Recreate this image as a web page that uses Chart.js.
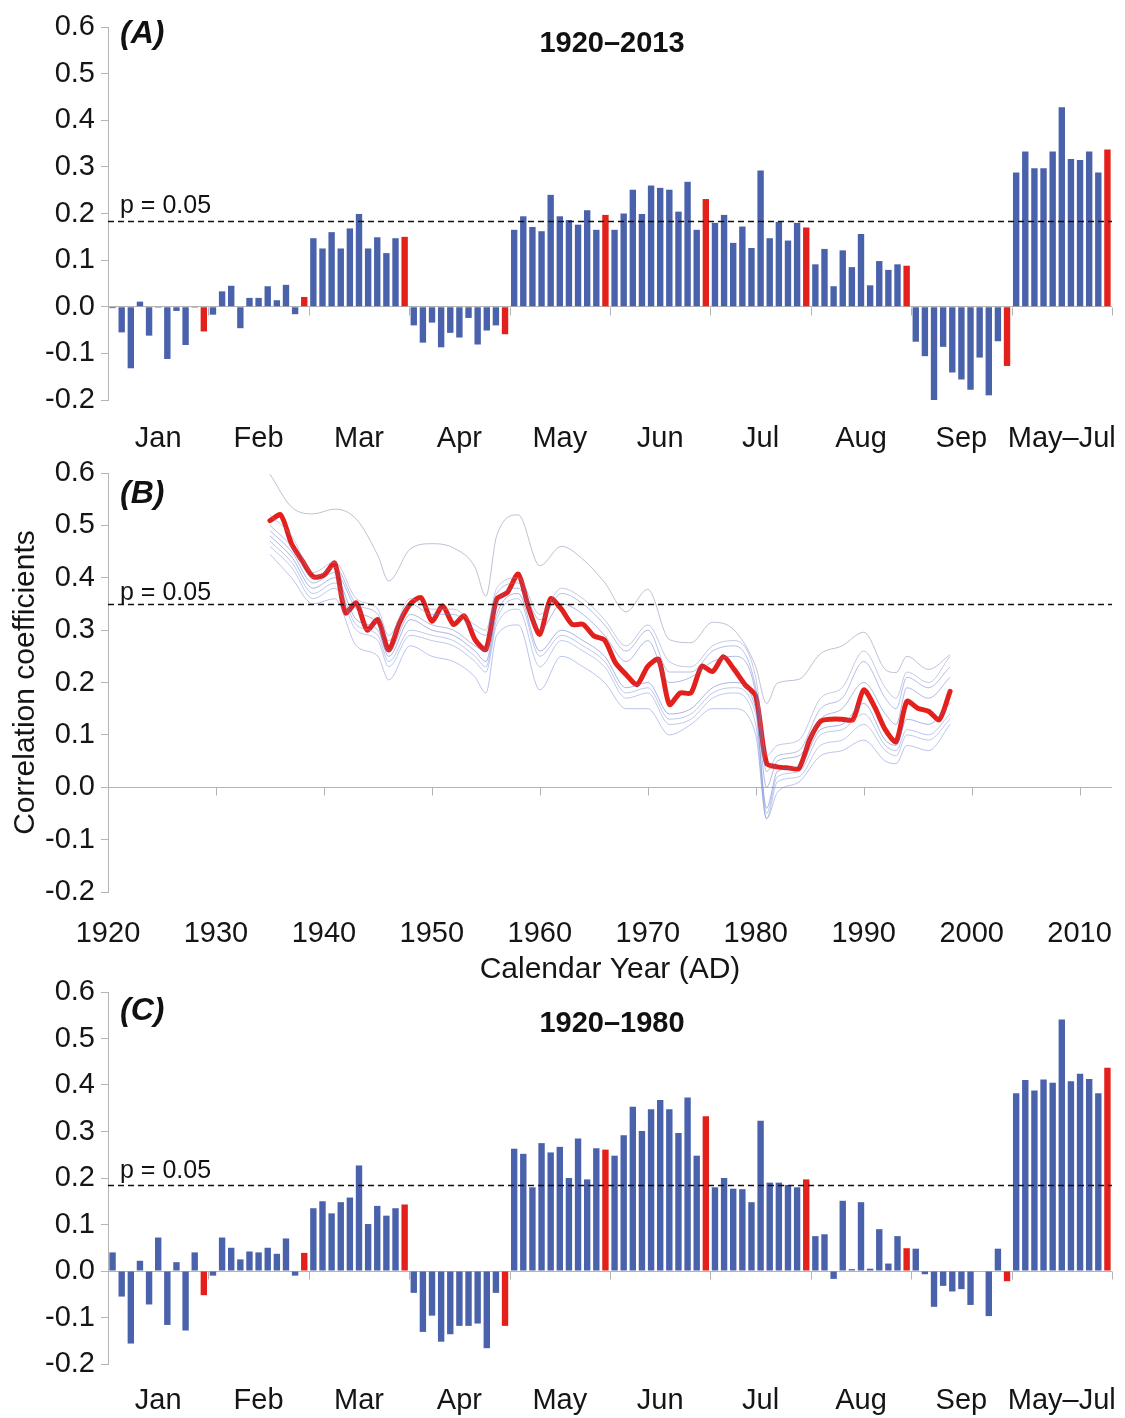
<!DOCTYPE html>
<html><head><meta charset="utf-8">
<script src="https://cdn.jsdelivr.net/npm/chart.js@4.4.1/dist/chart.umd.min.js"></script>
<style>
html,body{margin:0;padding:0;background:#fff;}
#wrap{position:relative;width:1125px;height:1418px;overflow:hidden;font-family:'Liberation Sans',Arial,sans-serif;color:#111;}
canvas{position:absolute;left:0;}
.t{position:absolute;line-height:1;white-space:nowrap;}
.pl{font-weight:bold;font-style:italic;font-size:32px;left:120px;}
.ttl{font-weight:bold;font-size:29px;left:612px;transform:translateX(-50%);}
.p{font-size:25px;left:120px;}
</style></head><body>
<div id="wrap">
<canvas id="cA" width="1125" height="470" style="top:0px;width:1125px;height:470px"></canvas>
<canvas id="cB" width="1125" height="560" style="top:440px;width:1125px;height:560px"></canvas>
<canvas id="cC" width="1125" height="458" style="top:960px;width:1125px;height:458px"></canvas>
<div class="t pl" style="top:16px">(A)</div>
<div class="t ttl" style="top:28px">1920–2013</div>
<div class="t p" style="top:192px">p = 0.05</div>
<div class="t pl" style="top:476px">(B)</div>
<div class="t p" style="top:579px">p = 0.05</div>
<div class="t pl" style="top:993px">(C)</div>
<div class="t ttl" style="top:1008px">1920–1980</div>
<div class="t p" style="top:1157px">p = 0.05</div>
</div>
<script>
// ---------- DATA ----------
const monthLabels = ['Jan','Feb','Mar','Apr','May','Jun','Jul','Aug','Sep','May–Jul'];
const barsPerMonth = 11; // 10 individual bars + final (red) bar per month

// Panel A: 1920–2013
const valuesA = [
  [-0.003,-0.055,-0.132, 0.011,-0.062,-0.002,-0.112,-0.009,-0.082,-0.002,-0.053], // Jan
  [-0.017, 0.033, 0.045,-0.046, 0.019, 0.019, 0.044, 0.014, 0.047,-0.016, 0.021], // Feb
  [ 0.147, 0.125, 0.160, 0.125, 0.168, 0.199, 0.125, 0.149, 0.115, 0.147, 0.150], // Mar
  [-0.040,-0.077,-0.034,-0.087,-0.056,-0.066,-0.024,-0.081,-0.051,-0.040,-0.059], // Apr
  [ 0.165, 0.194, 0.171, 0.162, 0.240, 0.194, 0.186, 0.176, 0.207, 0.165, 0.197], // May
  [ 0.165, 0.200, 0.251, 0.199, 0.260, 0.255, 0.251, 0.204, 0.268, 0.165, 0.231], // Jun
  [ 0.180, 0.197, 0.137, 0.172, 0.126, 0.292, 0.147, 0.182, 0.142, 0.180, 0.170], // Jul
  [ 0.091, 0.124, 0.044, 0.121, 0.085, 0.156, 0.046, 0.098, 0.079, 0.091, 0.088], // Aug
  [-0.075,-0.106,-0.200,-0.086,-0.141,-0.156,-0.178,-0.109,-0.190,-0.074,-0.127], // Sep
  [ 0.288, 0.333, 0.297, 0.297, 0.333, 0.428, 0.317, 0.315, 0.333, 0.288, 0.337]  // May–Jul
];

// Panel C: 1920–1980
const valuesC = [
  [ 0.040,-0.055,-0.156, 0.022,-0.072, 0.072,-0.116, 0.019,-0.128, 0.040,-0.052], // Jan
  [-0.010, 0.072, 0.050, 0.025, 0.042, 0.040, 0.050, 0.037, 0.070,-0.010, 0.039], // Feb
  [ 0.135, 0.150, 0.124, 0.148, 0.158, 0.227, 0.101, 0.140, 0.119, 0.135, 0.143], // Mar
  [-0.047,-0.131,-0.096,-0.152,-0.136,-0.118,-0.118,-0.113,-0.166,-0.047,-0.118], // Apr
  [ 0.263, 0.252, 0.180, 0.275, 0.255, 0.267, 0.200, 0.285, 0.197, 0.264, 0.261], // May
  [ 0.248, 0.292, 0.353, 0.301, 0.348, 0.368, 0.348, 0.297, 0.373, 0.248, 0.333], // Jun
  [ 0.180, 0.200, 0.177, 0.176, 0.148, 0.323, 0.190, 0.190, 0.185, 0.180, 0.197], // Jul
  [ 0.075, 0.079,-0.017, 0.151, 0.004, 0.148, 0.005, 0.090, 0.016, 0.075, 0.049], // Aug
  [ 0.048,-0.007,-0.077,-0.032,-0.044,-0.039,-0.073, 0.000,-0.097, 0.048,-0.022], // Sep
  [ 0.382, 0.411, 0.388, 0.412, 0.405, 0.541, 0.408, 0.424, 0.413, 0.382, 0.437]  // May–Jul
];

// Panel B: running correlation, thick red line (annual, 1935–1998)
const redYears = [1935,1936,1937,1938,1939,1940,1941,1942,1943,1944,1945,1946,1947,1948,1949,1950,
  1951,1952,1953,1954,1955,1956,1957,1958,1959,1960,1961,1962,1963,1964,1965,1966,1967,1968,1969,1970,
  1971,1972,1973,1974,1975,1976,1977,1978,1979,1980,1981,1982,1983,1984,1985,1986,1987,1988,1989,1990,
  1991,1992,1993,1994,1995,1996,1997,1998];
const redValues = [0.509,0.520,0.465,0.432,0.402,0.405,0.428,0.333,0.352,0.300,0.320,0.262,0.314,0.350,0.362,0.317,
  0.346,0.311,0.327,0.282,0.263,0.359,0.372,0.407,0.340,0.292,0.360,0.340,0.311,0.311,0.289,0.281,
  0.238,0.215,0.196,0.231,0.244,0.158,0.180,0.180,0.231,0.221,0.249,0.225,0.196,0.174,0.046,0.039,
  0.037,0.036,0.091,0.126,0.130,0.130,0.129,0.186,0.154,0.110,0.087,0.164,0.151,0.145,0.129,0.183];

// Panel B: thin individual lines
const thinYears = [1935,1937,1939,1941,1943,1945,1946,1948,1950,1952,1954,1955,1956,1958,1960,1962,1964,1966,
  1968,1970,1972,1974,1976,1978,1980,1981,1982,1984,1986,1988,1990,1992,1993,1994,1996,1998];
const thinUpper = [0.598,0.535,0.522,0.531,0.512,0.442,0.394,0.455,0.465,0.457,0.420,0.365,0.480,0.520,0.423,0.460,0.435,0.391,
  0.335,0.378,0.282,0.276,0.315,0.300,0.230,0.160,0.199,0.206,0.255,0.270,0.296,0.225,0.219,0.250,0.225,0.253];
const thinLower = [0.445,0.400,0.350,0.360,0.270,0.250,0.205,0.270,0.250,0.240,0.210,0.180,0.290,0.310,0.186,0.250,0.230,0.200,
  0.150,0.150,0.100,0.120,0.150,0.150,0.100,-0.060,-0.010,0.010,0.060,0.070,0.090,0.050,0.045,0.080,0.070,0.120];
const thin1 = [0.500,0.460,0.400,0.420,0.350,0.330,0.280,0.350,0.330,0.330,0.300,0.290,0.370,0.390,0.320,0.370,0.350,0.310,
  0.260,0.300,0.220,0.220,0.260,0.270,0.190,0.030,0.060,0.070,0.150,0.170,0.240,0.170,0.150,0.210,0.190,0.230];
const thin2 = [0.480,0.440,0.380,0.400,0.320,0.300,0.250,0.320,0.300,0.290,0.260,0.240,0.330,0.370,0.260,0.300,0.280,0.250,
  0.190,0.200,0.140,0.150,0.190,0.200,0.150,-0.040,0.030,0.040,0.110,0.120,0.160,0.090,0.080,0.130,0.120,0.160];
const thin3 = [0.470,0.430,0.370,0.390,0.310,0.290,0.240,0.300,0.290,0.280,0.250,0.230,0.320,0.360,0.250,0.290,0.270,0.240,
  0.180,0.190,0.130,0.140,0.180,0.190,0.140,-0.050,0.020,0.030,0.100,0.110,0.140,0.080,0.070,0.110,0.100,0.140];
const thin4 = [0.490,0.450,0.390,0.410,0.340,0.310,0.260,0.330,0.310,0.300,0.270,0.260,0.350,0.380,0.300,0.350,0.330,0.290,
  0.240,0.280,0.200,0.210,0.240,0.250,0.180,0.000,0.050,0.060,0.130,0.150,0.200,0.140,0.120,0.190,0.170,0.210];
const thin5 = [0.460,0.420,0.360,0.380,0.300,0.280,0.230,0.290,0.280,0.270,0.240,0.220,0.310,0.340,0.230,0.280,0.260,0.230,
  0.170,0.180,0.120,0.130,0.170,0.180,0.120,-0.060,0.010,0.020,0.080,0.090,0.120,0.070,0.060,0.100,0.090,0.130];
const thin6 = [0.520,0.480,0.410,0.430,0.360,0.340,0.290,0.360,0.340,0.340,0.310,0.300,0.380,0.400,0.330,0.380,0.360,0.320,
  0.270,0.310,0.240,0.230,0.270,0.280,0.210,0.060,0.080,0.090,0.170,0.190,0.260,0.190,0.170,0.220,0.200,0.250];

const pLevelA = 0.183, pLevelB = 0.35, pLevelC = 0.184;
const yMin = -0.2, yMax = 0.6, yStep = 0.1;
const xMinB = 1920, xMaxB = 2013, xStepB = 10;

// ---------- STYLE ----------
const FONT = "'Liberation Sans', Arial, sans-serif";
Chart.defaults.font.family = FONT;
Chart.defaults.color = '#151515';
const AXIS_GREY = '#b4b4b4';
const BLUE = '#4a62ab', RED = '#e3201b';

const fmt = v => (Math.abs(v) < 1e-9 ? 0 : v).toFixed(1);

const pLinePlugin = {
  id: 'pline',
  afterDatasetsDraw(chart, args, opts) {
    const {ctx, chartArea: {left, right}, scales: {y}} = chart;
    const yy = Math.round(y.getPixelForValue(opts.value)) + 0.5;
    ctx.save();
    ctx.setLineDash([6, 4]);
    ctx.strokeStyle = '#111';
    ctx.lineWidth = 1.3;
    ctx.beginPath(); ctx.moveTo(left, yy); ctx.lineTo(right, yy); ctx.stroke();
    ctx.restore();
  }
};
const zeroTicksPlugin = {
  id: 'zeroTicks',
  beforeDatasetsDraw(chart, args, opts) {
    const {ctx, scales: {x, y}} = chart;
    const y0 = Math.round(y.getPixelForValue(0)) + 0.5;
    ctx.save();
    ctx.strokeStyle = AXIS_GREY; ctx.lineWidth = 1;
    opts.positions(chart).forEach(px => {
      px = Math.round(px) + 0.5;
      ctx.beginPath(); ctx.moveTo(px, y0); ctx.lineTo(px, y0 + 8); ctx.stroke();
    });
    ctx.restore();
  }
};

function yScale(width, withTitle) {
  const s = {
    min: yMin, max: yMax,
    ticks: { stepSize: yStep, callback: v => fmt(v), font: {size: 29}, padding: 6, color: '#151515' },
    grid: {
      color: c => (c.tick && Math.abs(c.tick.value) < 1e-9) ? AXIS_GREY : 'rgba(0,0,0,0)',
      tickColor: AXIS_GREY, tickLength: 7, drawTicks: true
    },
    border: { display: true, color: AXIS_GREY, width: 1 },
    afterFit: sc => { sc.width = width; sc.paddingTop = 0; sc.paddingBottom = 0; }
  };
  if (withTitle) {
    s.title = { display: true, text: 'Correlation coefficients', font: {size: 30}, padding: {top: 8, bottom: 4}, color: '#151515' };
  }
  return s;
}

function barChart(id, values, pLevel, padTop, xHeight, labelPad) {
  const labels = [], data = [], colors = [];
  values.forEach((grp, gi) => grp.forEach((v, bi) => {
    labels.push(monthLabels[gi] + ' ' + (bi + 1));
    data.push(v);
    colors.push(bi === barsPerMonth - 1 ? RED : BLUE);
  }));
  return new Chart(document.getElementById(id), {
    type: 'bar',
    data: { labels, datasets: [{ data, backgroundColor: colors, borderWidth: 0, barPercentage: 0.7, categoryPercentage: 1.0 }] },
    options: {
      responsive: false, animation: false, devicePixelRatio: 1,
      layout: { padding: { left: 0, right: 13, top: padTop, bottom: 0 } },
      plugins: { legend: {display: false}, tooltip: {enabled: false}, pline: {value: pLevel},
        zeroTicks: { positions: ch => { const {left, right} = ch.chartArea; const a = []; for (let k = 0; k <= monthLabels.length; k++) a.push(left + k * (right - left) / monthLabels.length); return a; } } },
      scales: {
        x: {
          offset: true,
          grid: { display: false, drawTicks: false },
          border: { display: false },
          ticks: { autoSkip: false, maxRotation: 0, minRotation: 0, padding: labelPad, font: {size: 29}, color: '#151515',
            callback: (v, i) => (i % barsPerMonth === 5) ? monthLabels[Math.floor(i / barsPerMonth)] : '' },
          afterFit: sc => { sc.height = xHeight; sc.paddingLeft = 0; sc.paddingRight = 0; }
        },
        y: yScale(108, false)
      }
    },
    plugins: [pLinePlugin, zeroTicksPlugin]
  });
}

barChart('cA', valuesA, pLevelA, 27, 70, 22);
barChart('cC', valuesC, pLevelC, 32, 54, 20);

// Panel B
const thinSets = [
  {v: thinUpper, c: 'rgba(150,150,185,0.6)'},
  {v: thinLower, c: 'rgba(120,140,215,0.5)'},
  {v: thin1, c: 'rgba(110,130,210,0.5)'},
  {v: thin2, c: 'rgba(90,110,200,0.5)'},
  {v: thin3, c: 'rgba(120,150,220,0.5)'},
  {v: thin4, c: 'rgba(100,120,205,0.5)'},
  {v: thin5, c: 'rgba(130,150,220,0.5)'},
  {v: thin6, c: 'rgba(140,150,200,0.5)'}
];
const dsB = thinSets.map(s => ({
  data: thinYears.map((yr, i) => ({x: yr, y: s.v[i]})),
  borderColor: s.c, borderWidth: 1, pointRadius: 0, cubicInterpolationMode: 'monotone', fill: false
}));
dsB.push({
  data: redYears.map((yr, i) => ({x: yr, y: redValues[i]})),
  borderColor: RED, borderWidth: 5, pointRadius: 0, tension: 0.25, fill: false,
  borderJoinStyle: 'round', borderCapStyle: 'round'
});

new Chart(document.getElementById('cB'), {
  type: 'line',
  data: { datasets: dsB },
  options: {
    responsive: false, animation: false, devicePixelRatio: 1,
    layout: { padding: { left: 0, right: 13, top: 33, bottom: 0 } },
    plugins: { legend: {display: false}, tooltip: {enabled: false}, pline: {value: pLevelB},
      zeroTicks: { positions: ch => { const a = []; for (let yr = xMinB; yr <= xMaxB; yr += xStepB) a.push(ch.scales.x.getPixelForValue(yr)); return a; } } },
    scales: {
      x: {
        type: 'linear', min: xMinB, max: xMaxB,
        grid: { display: false, drawTicks: false },
        border: { display: false },
        ticks: { stepSize: xStepB, includeBounds: false, padding: 25, font: {size: 29}, color: '#151515', maxRotation: 0, callback: v => String(v) },
        title: { display: true, text: 'Calendar Year (AD)', font: {size: 30}, padding: {top: 4, bottom: 12}, color: '#151515' },
        afterFit: sc => { sc.height = 108; sc.paddingLeft = 0; sc.paddingRight = 0; }
      },
      y: yScale(108, true)
    }
  },
  plugins: [pLinePlugin, zeroTicksPlugin]
});
</script>
</body></html>
